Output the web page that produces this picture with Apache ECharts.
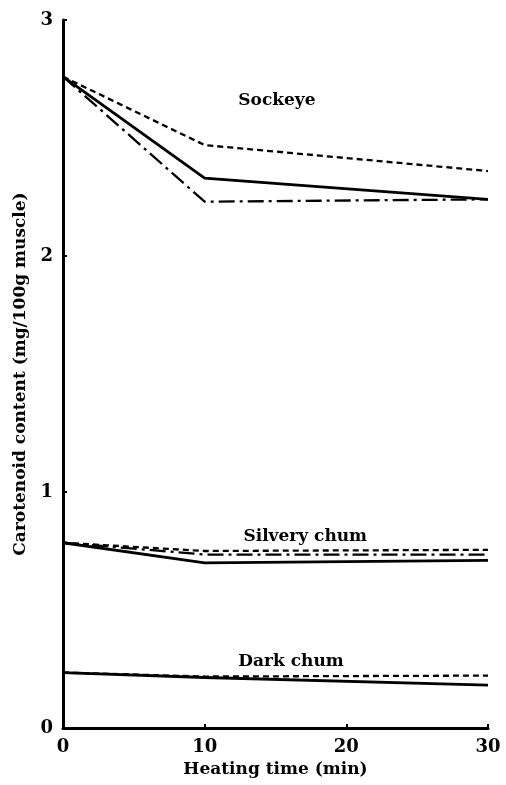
<!DOCTYPE html>
<html><head><meta charset="utf-8">
<script src="https://cdn.jsdelivr.net/npm/echarts@6/dist/echarts.min.js"></script>
<style>html,body{margin:0;padding:0;background:#fff}#c{width:506px;height:785px}</style>
</head><body><div id="c"></div>
<script>
const times = [0, 10, 30];
const sockeyeDashed = [2.76, 2.47, 2.36];
const sockeyeSolid = [2.76, 2.33, 2.24];
const sockeyeDashDot = [2.76, 2.23, 2.24];
const silveryDashed = [0.785, 0.75, 0.755];
const silveryDashDot = [0.785, 0.735, 0.735];
const silverySolid = [0.785, 0.70, 0.71];
const darkDashed = [0.235, 0.218, 0.222];
const darkSolid = [0.235, 0.214, 0.182];
const labelNames = ['Sockeye', 'Silvery chum', 'Dark chum'];
const labelX = [15.1, 17.1, 16.1];
const labelY = [2.66, 0.81, 0.28];
const xTicks = [0, 10, 20, 30];
const yTicks = [0, 1, 2, 3];

const font = '"DejaVu Serif", "Liberation Serif", serif';
const styles = {
  solid: {type: 'solid', width: 2.8},
  dashed: {type: [6, 4], width: 2.3},
  dashdot: {type: [16, 5, 3, 5], width: 2.3}
};
function mk(name, vals, st) {
  return {
    name, type: 'line', data: times.map((t, i) => [t, vals[i]]),
    symbol: 'none', silent: true,
    lineStyle: Object.assign({color: '#000', cap: 'butt', join: 'miter'}, styles[st])
  };
}
const series = [
  mk('Sockeye dashed', sockeyeDashed, 'dashed'),
  mk('Sockeye solid', sockeyeSolid, 'solid'),
  mk('Sockeye dash-dot', sockeyeDashDot, 'dashdot'),
  mk('Silvery dashed', silveryDashed, 'dashed'),
  mk('Silvery dash-dot', silveryDashDot, 'dashdot'),
  mk('Silvery solid', silverySolid, 'solid'),
  mk('Dark dashed', darkDashed, 'dashed'),
  mk('Dark solid', darkSolid, 'solid'),
  {
    type: 'scatter', symbolSize: 1, silent: true,
    itemStyle: {color: 'rgba(0,0,0,0)', opacity: 1},
    data: labelNames.map((n, i) => ({name: n, value: [labelX[i], labelY[i]]})),
    label: {show: true, position: 'inside', formatter: p => p.name,
      color: '#000', textBorderWidth: 0, fontFamily: font, fontSize: 17, fontWeight: 'bold'}
  }
];
const chart = echarts.init(document.getElementById('c'), null, {renderer: 'canvas'});
chart.setOption({
  animation: false,
  backgroundColor: '#fff',
  grid: {left: 63, right: 18, top: 20, bottom: 57, containLabel: false},
  xAxis: {
    type: 'value', min: xTicks[0], max: xTicks[xTicks.length - 1], interval: 10,
    name: 'Heating time (min)', nameLocation: 'middle', nameGap: 33,
    nameTextStyle: {color: '#000', fontFamily: font, fontSize: 17, fontWeight: 'bold'},
    axisLine: {lineStyle: {color: '#000', width: 3}},
    axisTick: {inside: true, length: 4, lineStyle: {color: '#000', width: 2}},
    axisLabel: {color: '#000', fontFamily: font, fontSize: 18, fontWeight: 'bold', margin: 10},
    splitLine: {show: false}
  },
  yAxis: {
    type: 'value', min: yTicks[0], max: yTicks[yTicks.length - 1], interval: 1,
    name: 'Carotenoid content (mg/100g muscle)', nameLocation: 'middle', nameGap: 34,
    nameTextStyle: {color: '#000', fontFamily: font, fontSize: 17, fontWeight: 'bold'},
    axisLine: {show: true, lineStyle: {color: '#000', width: 3}},
    axisTick: {show: true, inside: true, length: 4, lineStyle: {color: '#000', width: 2}},
    axisLabel: {color: '#000', fontFamily: font, fontSize: 18, fontWeight: 'bold', margin: 10},
    splitLine: {show: false}
  },
  series
});
</script></body></html>
